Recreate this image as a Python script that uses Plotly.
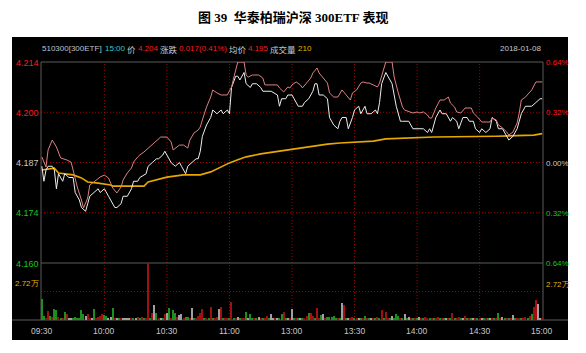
import plotly.graph_objects as go

# ---------------- data ----------------
pre_close = 4.187

price_min = [0, 1, 2, 3, 5, 6, 7, 8, 10, 11, 13, 15, 16, 18, 19, 21, 22, 23, 25, 27, 28, 30, 32, 35, 36, 38, 39,
             41, 43, 44, 46, 47, 50, 51, 53, 55, 56, 58, 59, 61, 62, 64, 66, 67, 69, 70, 72, 74, 75, 76, 77, 79,
             81, 82, 84, 86, 87, 89, 90, 91, 93, 94, 95, 97, 98, 100, 101, 103, 105, 106, 108, 110, 113, 114,
             115, 117, 118, 120, 121, 123, 125, 126, 128, 130, 131, 132, 133, 135, 137, 138, 140, 142, 143, 144,
             146, 147, 149, 150, 152, 153, 155, 156, 158, 160, 161, 162, 163, 165, 167, 168, 170, 172, 173, 175,
             176, 178, 180, 181, 183, 185, 186, 187, 189, 191, 192, 194, 196, 197, 199, 200, 202, 204, 205, 207,
             208, 210, 211, 213, 215, 216, 218, 219, 221, 223, 224, 226, 228, 229, 230, 232, 234, 235, 237, 239, 240]
price_val = [4.186, 4.182, 4.185, 4.186, 4.186, 4.185, 4.180, 4.184, 4.182, 4.184, 4.183, 4.183, 4.179, 4.177,
             4.175, 4.174, 4.176, 4.178, 4.179, 4.180, 4.179, 4.180, 4.178, 4.175, 4.175, 4.176, 4.178,
             4.178, 4.180, 4.182, 4.182, 4.183, 4.184, 4.186, 4.187, 4.188, 4.188, 4.189, 4.190, 4.188, 4.187,
             4.186, 4.187, 4.186, 4.184, 4.186, 4.187, 4.188, 4.188, 4.190, 4.194, 4.197,
             4.199, 4.201, 4.200, 4.201, 4.200, 4.201, 4.200, 4.207, 4.210, 4.210, 4.209, 4.211, 4.208, 4.207,
             4.208, 4.208, 4.207, 4.206, 4.206, 4.206, 4.205, 4.202,
             4.204, 4.204, 4.205, 4.205, 4.204, 4.202, 4.202, 4.203, 4.204, 4.206, 4.208, 4.208, 4.205, 4.205,
             4.204, 4.199, 4.197, 4.196, 4.198, 4.199,
             4.199, 4.196, 4.199, 4.201, 4.202, 4.200, 4.202, 4.200, 4.200, 4.201, 4.200, 4.203, 4.208, 4.211,
             4.209, 4.208, 4.202, 4.198, 4.198, 4.198,
             4.198, 4.196, 4.196, 4.196, 4.196, 4.195, 4.196, 4.195, 4.199, 4.201, 4.200, 4.200, 4.198, 4.199,
             4.198, 4.196, 4.199, 4.199, 4.198, 4.198,
             4.196, 4.195, 4.196, 4.195, 4.196, 4.199, 4.198, 4.196, 4.196, 4.194, 4.193, 4.194, 4.196, 4.198,
             4.200, 4.202, 4.202, 4.202, 4.203, 4.204, 4.204]

# index (pink) line, % change vs previous close
idx_min = [0, 2, 3, 5, 7, 9, 12, 14, 15, 17, 19, 20, 22, 23, 25, 27, 28, 30, 32, 33, 34, 36, 38, 39, 41, 43,
           44, 46, 47, 49, 51, 52, 54, 55, 57, 60, 62, 63, 65, 66, 68, 70, 71, 73, 75, 76, 77, 79, 81, 82, 84,
           86, 89, 91, 93, 94, 97, 98, 99, 101, 102, 104, 106, 107, 113, 114, 116, 118, 119, 120, 122, 124, 125,
           127, 129, 130, 132, 133, 135, 137, 138, 140, 142, 143, 144, 146, 148, 149, 151, 153, 154, 156, 157,
           159, 161, 162, 164, 165, 168, 169, 171, 173, 174, 176, 178, 180, 181, 183, 185, 186, 187, 189, 191,
           193, 195, 196, 198, 199, 201, 203, 206, 207, 209, 211, 215, 216, 218, 219, 221, 223, 224, 226, 228,
           229, 230, 232, 234, 235, 237, 240]
idx_pct = [0.035, -0.029, 0.080, 0.143, 0.099, 0.029, 0.016, 0.003, -0.048, -0.156, -0.239, -0.290, -0.226,
           -0.143, -0.124, -0.099, -0.092, -0.080, -0.099, -0.131, -0.162, -0.194, -0.156, -0.111, -0.067, -0.035,
           0.003, 0.035, 0.048, 0.067, 0.092, 0.099, 0.124, 0.143, 0.162, 0.162, 0.131, 0.080, 0.099, 0.111,
           0.111, 0.092, 0.143, 0.188, 0.207, 0.226, 0.271, 0.353, 0.417, 0.462, 0.443,
           0.430, 0.430, 0.481, 0.589, 0.640, 0.640, 0.557, 0.544, 0.557, 0.557, 0.557, 0.538, 0.494, 0.494,
           0.475, 0.449, 0.481, 0.475, 0.494, 0.513, 0.494, 0.475,
           0.506, 0.538, 0.570, 0.602, 0.570, 0.538, 0.506, 0.443, 0.417, 0.417, 0.443, 0.462, 0.430, 0.398,
           0.443, 0.462, 0.506, 0.513, 0.506, 0.506,
           0.494, 0.481, 0.506, 0.589, 0.640, 0.640, 0.544, 0.443, 0.353, 0.334, 0.322, 0.315, 0.322, 0.315,
           0.322, 0.302, 0.283, 0.283, 0.347, 0.398,
           0.398, 0.417, 0.379, 0.353, 0.322, 0.315, 0.347, 0.347, 0.315, 0.290, 0.258, 0.258, 0.283, 0.271,
           0.239, 0.220, 0.194, 0.175, 0.194, 0.252,
           0.315, 0.398, 0.417, 0.443, 0.462, 0.513, 0.513]

avg_min = [0, 6, 8, 15, 19, 22, 27, 33, 34, 49, 51, 55, 60, 68, 76, 81, 86, 90, 94, 98, 105, 111, 119, 125,
           130, 137, 143, 151, 159, 165, 172, 188, 218, 236, 240]
avg_val = [4.1850, 4.1855, 4.1842, 4.1837, 4.1829, 4.1818, 4.1815, 4.1810, 4.1807, 4.1807, 4.1818, 4.1823,
           4.1831, 4.1837, 4.1837, 4.1845, 4.1858, 4.1869, 4.1877, 4.1885, 4.1893, 4.1898, 4.1906, 4.1909,
           4.1914, 4.1919, 4.1922, 4.1925, 4.1927, 4.1933, 4.1935, 4.1938, 4.1940, 4.1943, 4.1947]

# per-minute volume (万) and tick direction (u = up, d = down, f = flat)
vol_val = [
    1.97, 0.38, 0.15, 0.86, 0.38, 0.29, 1.05, 0.95, 0.29, 0.17,
    0.20, 0.76, 0.57, 0.16, 0.16, 0.22, 0.29, 0.22, 0.16, 0.95,
    0.57, 0.38, 0.57, 0.18, 0.16, 1.05, 0.20, 0.29, 0.38, 0.57,
    0.48, 0.38, 0.16, 0.29, 1.15, 0.20, 0.16, 0.14, 0.20, 0.16,
    0.16, 0.16, 0.22, 0.22, 0.18, 0.16, 0.29, 0.18, 0.29, 0.15,
    0.18, 5.44, 0.20, 0.67, 1.43, 0.67, 0.20, 0.16, 0.20, 0.57,
    0.67, 1.15, 0.20, 0.95, 0.67, 0.29, 0.48, 0.57, 0.18, 0.29,
    0.29, 0.18, 1.15, 0.18, 0.16, 0.38, 0.67, 1.05, 0.20, 0.18,
    0.16, 1.24, 0.20, 0.18, 0.29, 1.05, 1.24, 0.20, 0.18, 0.22,
    0.16, 1.72, 0.18, 0.20, 0.29, 0.16, 0.18, 0.22, 0.76, 0.22,
    0.57, 0.20, 0.18, 0.16, 0.29, 0.16, 0.20, 0.16, 0.38, 0.16,
    0.57, 0.22, 0.16, 0.22, 0.18, 0.57, 0.76, 0.18, 0.22, 0.16,
    1.05, 0.18, 0.16, 0.20, 0.16, 0.18, 0.20, 0.38, 0.67, 0.64,
    0.38, 0.20, 1.15, 0.18, 0.48, 0.57, 0.16, 0.29, 0.32, 0.32,
    0.38, 0.22, 0.16, 0.18, 1.62, 1.43, 0.18, 0.22, 0.16, 0.29,
    0.16, 0.18, 0.16, 0.20, 0.16, 0.38, 0.16, 0.18, 0.16, 0.20,
    0.16, 0.29, 0.18, 0.95, 0.18, 0.76, 0.16, 0.20, 0.38, 0.18,
    0.57, 0.38, 0.16, 0.20, 0.57, 0.16, 0.29, 0.16, 0.20, 0.16,
    0.18, 0.29, 0.16, 0.20, 0.29, 0.18, 0.16, 0.20, 0.16, 0.18,
    0.29, 0.16, 0.20, 0.18, 0.16, 0.20, 0.18, 0.67, 0.16, 0.20,
    0.29, 0.16, 0.18, 0.38, 0.16, 0.20, 0.18, 0.16, 0.20, 0.18,
    0.16, 0.22, 0.18, 0.20, 0.16, 0.18, 0.20, 0.16, 0.18, 0.67,
    0.20, 0.29, 0.16, 0.18, 0.16, 0.20, 0.48, 0.16, 0.18, 0.22,
    0.16, 0.22, 0.29, 0.22, 0.38, 0.57, 1.24, 1.90, 1.53, 0.15,
    0.15,
]
vol_dir = list(
    "dduududdud" "uduffddddd" "dfuufduuuu" "ddffdufduf" "fffudfudud"
    "uudufdufdu" "fdudduffud" "dufduuuudu" "duduufuduu" "dudufduudf"
    "ddudfuduud" "ffufddudfu" "fdudfduudu" "uduudfuddd" "ddudfudfuu"
    "dufdududfu" "dududuudfd" "ddudfdfudu" "dfuduududu" "ududfududu"
    "udfududfud" "ufdudfudud" "ufdudufduu" "duududuuff" "u"
)

time_ticks = [0, 30, 60, 90, 120, 150, 180, 210, 240]
time_labels = ["09:30", "10:00", "10:30", "11:00", "13:00", "13:30", "14:00", "14:30", "15:00"]
pct_levels = [0.64, 0.32, 0.0, -0.32, -0.64]
price_labels = ["4.214", "4.200", "4.187", "4.174", "4.160"]
pct_labels = ["0.64%", "0.32%", "0.00%", "0.32%", "0.64%"]
vol_ref = 2.72
vol_ref_label = "2.72万"
vol_max = 5.44

# ---------------- layout helpers ----------------
W, H = 586, 353
L, R, T, B = 41, 543, 62, 320
SEP = 263


def px(x):
    return (x - L) / (R - L)


def py(y):
    return (B - y) / (B - T)


NARROW = "Liberation Sans Narrow, Arial Narrow, Liberation Sans, sans-serif"
CJK = "Noto Sans CJK SC, sans-serif"
RED_T, GREEN_T, WHITE_T, YEL_T = "#ff1a1a", "#19c819", "#c8c8c8", "#e6b400"
GRID = "#a00000"
FRAME = "#5a5a5a"

price_lo = pre_close * (1 - 0.0064)
price_hi = pre_close * (1 + 0.0064)

fig = go.Figure()

dir_color = {"u": "#a01010", "d": "#1d8f1d", "f": "#a0a0a0"}
fig.add_trace(go.Bar(
    x=list(range(len(vol_val))), y=vol_val,
    marker=dict(color=[dir_color[d] for d in vol_dir[:len(vol_val)]], line=dict(width=0)),
    width=0.55, xaxis="x2", yaxis="y3", hoverinfo="skip",
))
fig.add_trace(go.Scatter(x=avg_min, y=avg_val, mode="lines", line=dict(color="#e6a800", width=1.6),
                         xaxis="x", yaxis="y", cliponaxis=False, hoverinfo="skip"))
fig.add_trace(go.Scatter(x=idx_min, y=idx_pct, mode="lines", line=dict(color="#de8080", width=1),
                         xaxis="x", yaxis="y2", cliponaxis=False, hoverinfo="skip"))
fig.add_trace(go.Scatter(x=price_min, y=price_val, mode="lines", line=dict(color="#eeeeee", width=1),
                         xaxis="x", yaxis="y", cliponaxis=False, hoverinfo="skip"))

split = py(SEP)
xr = [-0.4, 240.4]
fig.update_layout(
    width=W, height=H, showlegend=False,
    margin=dict(l=L, r=W - R, t=T, b=H - B, pad=0),
    paper_bgcolor="white", plot_bgcolor="black",
    xaxis=dict(domain=[0, 1], range=xr, visible=False, anchor="y"),
    xaxis2=dict(domain=[0, 1], range=xr, visible=False, anchor="y3", matches="x"),
    yaxis=dict(domain=[split, 1], range=[price_lo, price_hi], visible=False),
    yaxis2=dict(overlaying="y", range=[-0.64, 0.64], visible=False),
    yaxis3=dict(domain=[0, split], range=[0, vol_max], visible=False),
    bargap=0,
)

shapes = []
# black panel
shapes.append(dict(type="rect", xref="paper", yref="paper", x0=px(12), x1=px(568), y0=py(340), y1=py(37),
                   fillcolor="black", line=dict(width=0), layer="below"))
# dotted grid
for lv in pct_levels[1:4]:
    yv = pre_close * (1 + lv / 100)
    shapes.append(dict(type="line", xref="paper", yref="y", x0=0, x1=1, y0=yv, y1=yv,
                       line=dict(color=GRID, width=1, dash="1px,2px"), layer="below"))
shapes.append(dict(type="line", xref="paper", yref="y3", x0=0, x1=1, y0=vol_ref, y1=vol_ref,
                   line=dict(color=GRID, width=1, dash="1px,2px"), layer="below"))
for t in time_ticks[1:-1]:
    shapes.append(dict(type="line", xref="x", yref="paper", x0=t, x1=t, y0=0, y1=1,
                       line=dict(color=GRID, width=1, dash="1px,2px"), layer="below"))
# frame lines
for (x0, y0, x1, y1) in [(L, T, R, T), (L, SEP, R, SEP), (12, B, 568, B), (L, T, L, B), (R, T, R, B)]:
    shapes.append(dict(type="line", xref="paper", yref="paper", x0=px(x0), x1=px(x1), y0=py(y0), y1=py(y1),
                       line=dict(color=FRAME, width=1), layer="below"))
fig.update_layout(shapes=shapes)

ann = []


def text(x, y, s, color, size=8, family=NARROW, xanchor="left", yanchor="middle"):
    ann.append(dict(x=px(x), y=py(y), xref="paper", yref="paper", text=s, showarrow=False,
                    font=dict(color=color, size=size, family=family), xanchor=xanchor, yanchor=yanchor,
                    borderpad=0))


# title
text(293, 18, "<b>图 39  华泰柏瑞沪深 300ETF 表现</b>", "black", size=13,
     family="Liberation Serif, Noto Sans CJK SC, serif", xanchor="center")

# header row
HY = 49
text(41, HY, "510300[300ETF]", "#b8c4d4")
text(104, HY, "15:00", "#38c8c8")
text(126, HY, "价", WHITE_T, size=8.5, family=CJK)
text(137, HY, "4.204", RED_T)
text(159, HY, "涨跌", WHITE_T, size=8.5, family=CJK)
text(178, HY, "0.017(0.41%)", RED_T)
text(228, HY, "均价", WHITE_T, size=8.5, family=CJK)
text(247, HY, "4.195", RED_T)
text(269, HY, "成交量", WHITE_T, size=8.5, family=CJK)
text(297, HY, "210", YEL_T)
text(542, HY, "2018-01-08", WHITE_T, xanchor="right")

# price / percent labels
lab_cols = [RED_T, RED_T, WHITE_T, GREEN_T, GREEN_T]
for lv, pl, pc, c in zip(pct_levels, price_labels, pct_labels, lab_cols):
    ypx = 162.5 - lv / 0.32 * 50.25
    text(39.5, ypx + 0.5, pl, c, size=9, xanchor="right")
    text(544.5, ypx + 0.5, pc, c)
text(39.5, 283.5, vol_ref_label, YEL_T, xanchor="right")
text(544.5, 284.5, vol_ref_label, YEL_T)

# time labels
for t, s in zip(time_ticks, time_labels):
    ann.append(dict(x=t, y=py(331), xref="x", yref="paper", text=s, showarrow=False,
                    font=dict(color="#c8c8c8", size=8.5, family=NARROW), xanchor="center", yanchor="middle"))

fig.update_layout(annotations=ann)
fig.write_html("out.html")
